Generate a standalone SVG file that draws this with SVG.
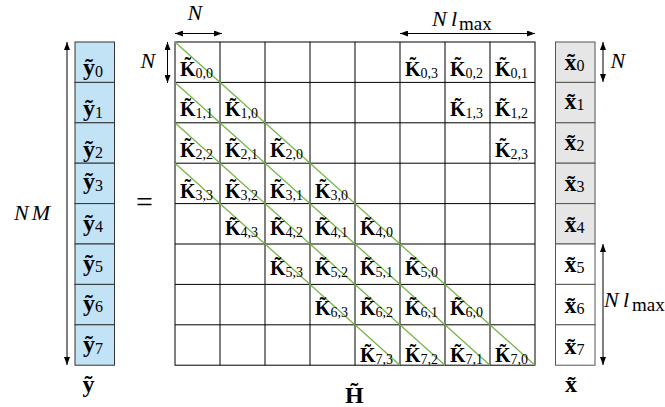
<svg xmlns="http://www.w3.org/2000/svg" width="665" height="407" viewBox="0 0 665 407">
<defs>
<marker id="ah" markerWidth="8" markerHeight="6" refX="8" refY="3" orient="auto-start-reverse" markerUnits="userSpaceOnUse">
<path d="M0,0 L8,3 L0,6 z" fill="#000"/>
</marker>
<style>
text{font-family:"Liberation Serif","Times New Roman",serif;fill:#000}
.k{font-weight:bold;font-size:20px}
.ks{font-weight:normal;font-size:14px}
.v{font-weight:bold;font-size:24px}
.vs{font-weight:normal;font-size:16px}
.it{font-style:italic;font-size:22px}
.rm{font-style:normal;font-size:19px}
.grid{stroke:#000;stroke-width:1;fill:none}
.yc{fill:#c2e3f5;stroke:#333;stroke-width:1}
.xg{fill:#e6e6e6;stroke:#555;stroke-width:1}
.xw{fill:#fff;stroke:#555;stroke-width:1}
.dim{stroke:#000;stroke-width:1;fill:none;marker-start:url(#ah);marker-end:url(#ah)}
.diag{stroke:#77b546;stroke-width:1.3;fill:none}
</style>
</defs>
<rect width="665" height="407" fill="#fff"/>

<g id="y-vector">
<rect class="yc" x="75" y="42" width="39.5" height="40.4"/>
<rect class="yc" x="75" y="82.4" width="39.5" height="40.4"/>
<rect class="yc" x="75" y="122.8" width="39.5" height="40.4"/>
<rect class="yc" x="75" y="163.2" width="39.5" height="40.4"/>
<rect class="yc" x="75" y="203.6" width="39.5" height="40.4"/>
<rect class="yc" x="75" y="244" width="39.5" height="40.4"/>
<rect class="yc" x="75" y="284.4" width="39.5" height="40.4"/>
<rect class="yc" x="75" y="324.8" width="39.5" height="40.4"/>
<text class="v" x="83" y="75">ỹ<tspan class="vs" dy="1.5">0</tspan></text>
<text class="v" x="83" y="116">ỹ<tspan class="vs" dy="1.5">1</tspan></text>
<text class="v" x="83" y="156.5">ỹ<tspan class="vs" dy="1.5">2</tspan></text>
<text class="v" x="83" y="189">ỹ<tspan class="vs" dy="1.5">3</tspan></text>
<text class="v" x="83" y="230.5">ỹ<tspan class="vs" dy="1.5">4</tspan></text>
<text class="v" x="83" y="270.5">ỹ<tspan class="vs" dy="1.5">5</tspan></text>
<text class="v" x="83" y="310.5">ỹ<tspan class="vs" dy="1.5">6</tspan></text>
<text class="v" x="83" y="352">ỹ<tspan class="vs" dy="1.5">7</tspan></text>
</g>

<g id="x-vector">
<rect class="xg" x="555.5" y="42" width="39.5" height="40.4"/>
<rect class="xg" x="555.5" y="82.4" width="39.5" height="40.4"/>
<rect class="xg" x="555.5" y="122.8" width="39.5" height="40.4"/>
<rect class="xg" x="555.5" y="163.2" width="39.5" height="40.4"/>
<rect class="xg" x="555.5" y="203.6" width="39.5" height="40.4"/>
<rect class="xw" x="555.5" y="244" width="39.5" height="40.4"/>
<rect class="xw" x="555.5" y="284.4" width="39.5" height="40.4"/>
<rect class="xw" x="555.5" y="324.8" width="39.5" height="40.4"/>
<text class="v" x="564.5" y="69.5">x̃<tspan class="vs" dy="1">0</tspan></text>
<text class="v" x="564.5" y="109">x̃<tspan class="vs" dy="1">1</tspan></text>
<text class="v" x="564.5" y="150">x̃<tspan class="vs" dy="1">2</tspan></text>
<text class="v" x="564.5" y="191">x̃<tspan class="vs" dy="1">3</tspan></text>
<text class="v" x="564.5" y="232">x̃<tspan class="vs" dy="1">4</tspan></text>
<text class="v" x="564.5" y="272">x̃<tspan class="vs" dy="1">5</tspan></text>
<text class="v" x="564.5" y="313">x̃<tspan class="vs" dy="1">6</tspan></text>
<text class="v" x="564.5" y="354">x̃<tspan class="vs" dy="1">7</tspan></text>
</g>

<g id="matrix-H">
<rect class="grid" x="175" y="42" width="360" height="323.2"/>
<path class="grid" d="M220,42V365.2 M265,42V365.2 M310,42V365.2 M355,42V365.2 M400,42V365.2 M445,42V365.2 M490,42V365.2 M175,82.4H535 M175,122.8H535 M175,163.2H535 M175,203.6H535 M175,244H535 M175,284.4H535 M175,324.8H535"/>
</g>

<g id="connectors">
<path class="diag" d="M175,42L535,365.2 M175,82.4L490,365.2 M175,122.8L445,365.2 M175,163.2L400,365.2"/>
<line class="dim" x1="175" y1="33.5" x2="222" y2="33.5"/>
<line class="dim" x1="400" y1="33.5" x2="535" y2="33.5"/>
<line class="dim" x1="167.5" y1="42" x2="167.5" y2="83"/>
<line class="dim" x1="67" y1="42" x2="67" y2="365"/>
<line class="dim" x1="603" y1="42" x2="603" y2="82"/>
<line class="dim" x1="603" y1="244" x2="603" y2="365"/>
</g>

<g id="K-entries">
<g id="row0">
<text class="k" x="180" y="75.5">K̃<tspan class="ks" dy="2">0,0</tspan></text>
<text class="k" x="405" y="75.5">K̃<tspan class="ks" dy="2">0,3</tspan></text>
<text class="k" x="450" y="75.5">K̃<tspan class="ks" dy="2">0,2</tspan></text>
<text class="k" x="495" y="75.5">K̃<tspan class="ks" dy="2">0,1</tspan></text>
</g>
<g id="row1">
<text class="k" x="180" y="116">K̃<tspan class="ks" dy="2">1,1</tspan></text>
<text class="k" x="225" y="116">K̃<tspan class="ks" dy="2">1,0</tspan></text>
<text class="k" x="450" y="116">K̃<tspan class="ks" dy="2">1,3</tspan></text>
<text class="k" x="495" y="116">K̃<tspan class="ks" dy="2">1,2</tspan></text>
</g>
<g id="row2">
<text class="k" x="180" y="156.5">K̃<tspan class="ks" dy="2">2,2</tspan></text>
<text class="k" x="225" y="156.5">K̃<tspan class="ks" dy="2">2,1</tspan></text>
<text class="k" x="270" y="156.5">K̃<tspan class="ks" dy="2">2,0</tspan></text>
<text class="k" x="495" y="156.5">K̃<tspan class="ks" dy="2">2,3</tspan></text>
</g>
<g id="row3">
<text class="k" x="180" y="197.5">K̃<tspan class="ks" dy="2">3,3</tspan></text>
<text class="k" x="225" y="197.5">K̃<tspan class="ks" dy="2">3,2</tspan></text>
<text class="k" x="270" y="197.5">K̃<tspan class="ks" dy="2">3,1</tspan></text>
<text class="k" x="315" y="197.5">K̃<tspan class="ks" dy="2">3,0</tspan></text>
</g>
<g id="row4">
<text class="k" x="225" y="235">K̃<tspan class="ks" dy="2">4,3</tspan></text>
<text class="k" x="270" y="235">K̃<tspan class="ks" dy="2">4,2</tspan></text>
<text class="k" x="315" y="235">K̃<tspan class="ks" dy="2">4,1</tspan></text>
<text class="k" x="360" y="235">K̃<tspan class="ks" dy="2">4,0</tspan></text>
</g>
<g id="row5">
<text class="k" x="270" y="275">K̃<tspan class="ks" dy="2">5,3</tspan></text>
<text class="k" x="315" y="275">K̃<tspan class="ks" dy="2">5,2</tspan></text>
<text class="k" x="360" y="275">K̃<tspan class="ks" dy="2">5,1</tspan></text>
<text class="k" x="405" y="275">K̃<tspan class="ks" dy="2">5,0</tspan></text>
</g>
<g id="row6">
<text class="k" x="315" y="315">K̃<tspan class="ks" dy="2">6,3</tspan></text>
<text class="k" x="360" y="315">K̃<tspan class="ks" dy="2">6,2</tspan></text>
<text class="k" x="405" y="315">K̃<tspan class="ks" dy="2">6,1</tspan></text>
<text class="k" x="450" y="315">K̃<tspan class="ks" dy="2">6,0</tspan></text>
</g>
<g id="row7">
<text class="k" x="360" y="362">K̃<tspan class="ks" dy="2">7,3</tspan></text>
<text class="k" x="405" y="362">K̃<tspan class="ks" dy="2">7,2</tspan></text>
<text class="k" x="450" y="362">K̃<tspan class="ks" dy="2">7,1</tspan></text>
<text class="k" x="495" y="362">K̃<tspan class="ks" dy="2">7,0</tspan></text>
</g>
</g>

<g id="labels">
<text class="it" x="187.5" y="19.5" font-size="21">N</text>
<text class="it" x="140.5" y="68">N</text>
<text class="it" x="610.5" y="68">N</text>
<text class="it" x="53" y="220" text-anchor="end" letter-spacing="3">NM</text>
<text class="it" x="432" y="26">N<tspan x="451">l</tspan><tspan class="rm" x="459" dy="4">max</tspan></text>
<text class="it" x="604" y="307">N<tspan x="623">l</tspan><tspan class="rm" x="632" dy="4">max</tspan></text>
<text x="144.5" y="212" text-anchor="middle" font-size="30">=</text>
<text class="v" x="82.5" y="392">ỹ</text>
<text class="v" x="565" y="392">x̃</text>
<text class="v" x="345" y="403" font-size="26">H̃</text>
</g>
</svg>
